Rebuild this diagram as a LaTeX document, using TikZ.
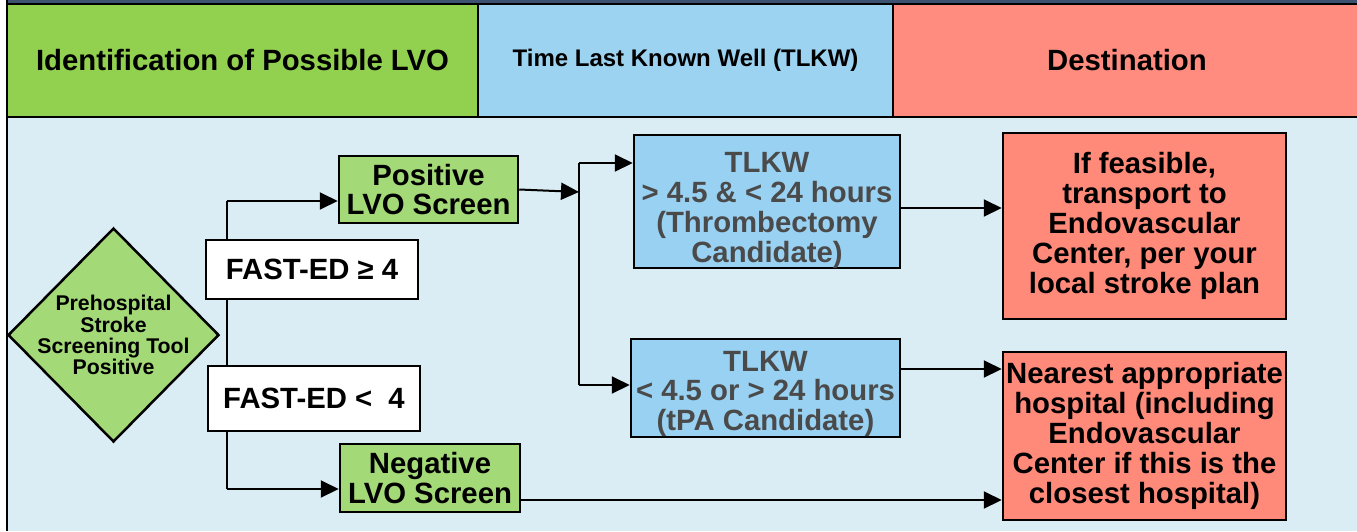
\documentclass[tikz,border=0pt]{standalone}
\usepackage{fontspec}
\setmainfont{Liberation Sans}
\usetikzlibrary{arrows.meta,shapes.geometric,calc}
\definecolor{hdrgreen}{HTML}{92D050}
\definecolor{hdrblue}{HTML}{9CD3F1}
\definecolor{hdrsalmon}{HTML}{FF8C7E}
\definecolor{bodyblue}{HTML}{DBEDF4}
\definecolor{navy}{HTML}{3D5170}
\definecolor{nodegreen}{HTML}{A3D977}
\definecolor{tlkwblue}{HTML}{99D1F2}
\definecolor{redbox}{HTML}{FF8A7A}
\definecolor{tlkwtext}{HTML}{4A4A4A}
\newcommand\bigf{\fontsize{29.3}{29.8}\selectfont\bfseries}
\newcommand\midf{\fontsize{24}{26}\selectfont\bfseries}
\newcommand\smallf{\fontsize{21.3}{21.2}\selectfont\bfseries}
\pgfdeclarelayer{bg}
\pgfdeclarelayer{conn}
\pgfsetlayers{bg,conn,main}
\begin{document}
\begin{tikzpicture}[x=1pt,y=-1pt,
  hdrcell/.style={draw=black, line width=2.5pt, inner sep=0pt, align=center, font=\bigf},
  box/.style={draw=black, line width=2.5pt, inner sep=0pt, align=center, font=\bigf},
  conn/.style={line width=2pt, draw=black},
  arr/.style={conn, -{Triangle[length=18pt,width=17pt]}}]
\useasboundingbox (0,0) rectangle (1357,531);
\begin{pgfonlayer}{bg}
  \fill[white] (0,0) rectangle (1357,531);
  \fill[bodyblue] (7,117) rectangle (1357,531);
  \fill[navy] (7,0) rectangle (1357,4);
\end{pgfonlayer}
% header
\node[hdrcell, fill=hdrgreen, minimum width=471pt, minimum height=113pt] (h1) at (242.5,60.5) {Identification of Possible LVO};
\node[hdrcell, fill=hdrblue, minimum width=415pt, minimum height=113pt, font=\midf] (h2) at (685.5,60.5) {Time Last Known Well (TLKW)};
\node[hdrcell, fill=hdrsalmon, minimum width=468pt, minimum height=113pt] (h3) at (1127,60.5) {Destination};
\coordinate (lt) at (7,0);
\coordinate (lb) at (7,531);
\draw[line width=2.5pt] (lt) -- (lb);
% left column
\node[diamond, draw=black, line width=2.5pt, fill=nodegreen, minimum width=211pt, minimum height=214pt, inner sep=0pt] (d) at (113.5,335) {};
\node[align=center, font=\smallf, inner sep=0pt] (dt) at (d.center) {Prehospital\\Stroke\\Screening Tool\\Positive};
\node[box, fill=nodegreen, minimum width=179pt, minimum height=67pt] (pos) at (428.5,189.5) {Positive\\LVO Screen};
\node[box, fill=nodegreen, minimum width=180pt, minimum height=68pt] (neg) at (430,478) {Negative\\LVO Screen};
\node[box, fill=white, minimum width=212pt, minimum height=59pt] (fge) at (312,269.5) {FAST-ED ≥ 4};
\node[box, fill=white, minimum width=212pt, minimum height=65pt] (flt) at (314,398.5) {FAST-ED <\ \ 4};
% middle column
\node[box, fill=tlkwblue, text=tlkwtext, minimum width=266pt, minimum height=133pt] (t1) at (767,201.5) {\rule{0pt}{38pt}TLKW\\> 4.5 \& < 24 hours\\(Thrombectomy\\Candidate)};
\node[box, fill=tlkwblue, text=tlkwtext, minimum width=269pt, minimum height=97pt] (t2) at (765.5,388) {\rule{0pt}{32pt}TLKW\\< 4.5 or > 24 hours\\(tPA Candidate)};
% right column
\node[box, fill=redbox, minimum width=283pt, minimum height=186pt] (r1) at (1144.5,226) {If feasible,\\transport to\\Endovascular\\Center, per your\\local stroke plan};
\node[box, fill=redbox, minimum width=283pt, minimum height=168pt] (r2) at (1144.5,436) {Nearest appropriate\\hospital (including\\Endovascular\\Center if this is the\\closest hospital)};
% connectors
\begin{pgfonlayer}{conn}
  \coordinate (vt) at (227,201);
  \coordinate (vb) at (227,489);
  \draw[conn] (vt) -- (vb);
  \draw[arr] (vt) -- (vt -| pos.west);
  \draw[arr] (vb) -- (vb -| neg.west);
  \coordinate (j) at (579,192);
  \coordinate (jt) at (579,163);
  \coordinate (jb) at (579,385);
  \draw[arr] (pos.east) -- (j);
  \draw[conn] (jt) -- (jb);
  \draw[arr] (jt) -- (jt -| t1.west);
  \draw[arr] (jb) -- (jb -| t2.west);
  \coordinate (a1) at (950,208);
  \coordinate (a2) at (950,369);
  \coordinate (a3) at (700,500);
  \draw[arr] (a1 -| t1.east) -- (a1 -| r1.west);
  \draw[arr] (a2 -| t2.east) -- (a2 -| r2.west);
  \draw[arr] (a3 -| neg.east) -- (a3 -| r2.west);
\end{pgfonlayer}
\end{tikzpicture}
\end{document}
